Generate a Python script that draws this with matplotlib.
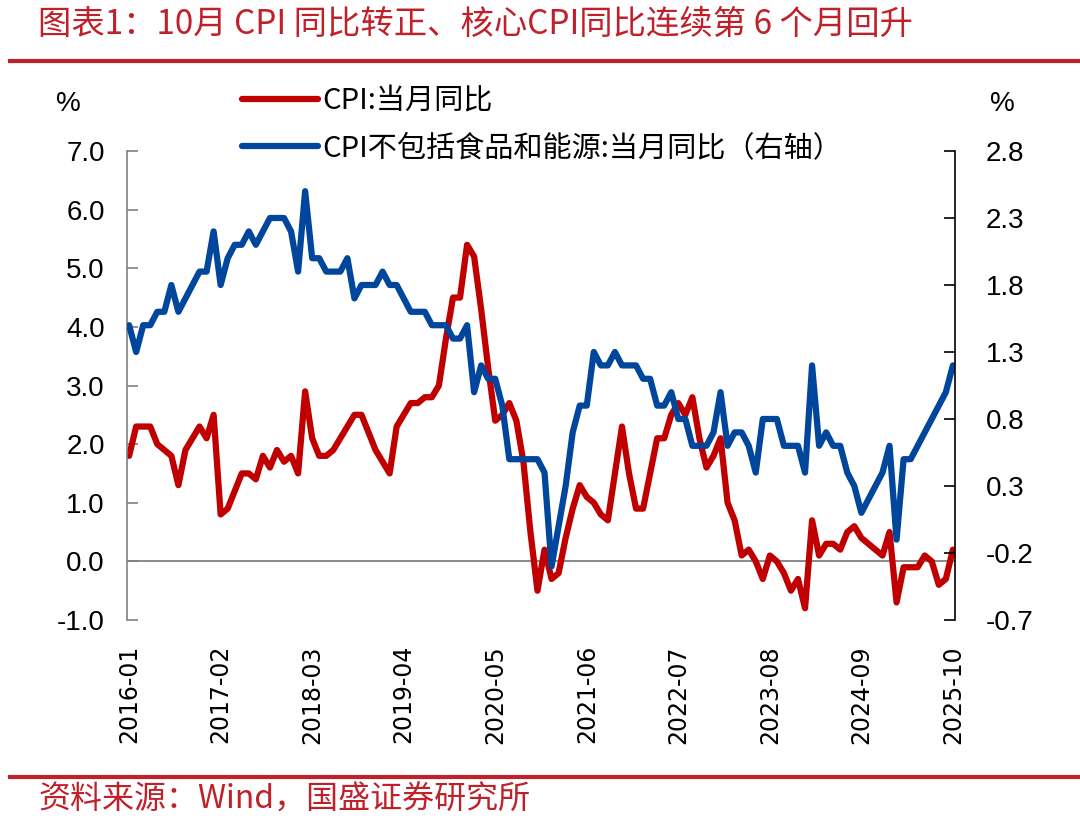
import numpy as np
import pandas as pd
import matplotlib
matplotlib.use('Agg')
import matplotlib.pyplot as plt
from matplotlib.lines import Line2D

plt.rcParams['font.family'] = ['DejaVu Sans', 'Noto Sans CJK SC']

# Monthly data, 2016-01 .. 2025-10
months = pd.period_range('2016-01', '2025-10', freq='M').strftime('%Y-%m').tolist()

cpi = [1.8, 2.3, 2.3, 2.3, 2.0, 1.9, 1.8, 1.3, 1.9, 2.1, 2.3, 2.1,
       2.5, 0.8, 0.9, 1.2, 1.5, 1.5, 1.4, 1.8, 1.6, 1.9, 1.7, 1.8,
       1.5, 2.9, 2.1, 1.8, 1.8, 1.9, 2.1, 2.3, 2.5, 2.5, 2.2, 1.9,
       1.7, 1.5, 2.3, 2.5, 2.7, 2.7, 2.8, 2.8, 3.0, 3.8, 4.5, 4.5,
       5.4, 5.2, 4.3, 3.3, 2.4, 2.5, 2.7, 2.4, 1.7, 0.5, -0.5, 0.2,
       -0.3, -0.2, 0.4, 0.9, 1.3, 1.1, 1.0, 0.8, 0.7, 1.5, 2.3, 1.5,
       0.9, 0.9, 1.5, 2.1, 2.1, 2.5, 2.7, 2.5, 2.8, 2.1, 1.6, 1.8,
       2.1, 1.0, 0.7, 0.1, 0.2, 0.0, -0.3, 0.1, 0.0, -0.2, -0.5, -0.3,
       -0.8, 0.7, 0.1, 0.3, 0.3, 0.2, 0.5, 0.6, 0.4, 0.3, 0.2, 0.1,
       0.5, -0.7, -0.1, -0.1, -0.1, 0.1, 0.0, -0.4, -0.3, 0.2]

core = [1.5, 1.3, 1.5, 1.5, 1.6, 1.6, 1.8, 1.6, 1.7, 1.8, 1.9, 1.9,
        2.2, 1.8, 2.0, 2.1, 2.1, 2.2, 2.1, 2.2, 2.3, 2.3, 2.3, 2.2,
        1.9, 2.5, 2.0, 2.0, 1.9, 1.9, 1.9, 2.0, 1.7, 1.8, 1.8, 1.8,
        1.9, 1.8, 1.8, 1.7, 1.6, 1.6, 1.6, 1.5, 1.5, 1.5, 1.4, 1.4,
        1.5, 1.0, 1.2, 1.1, 1.1, 0.9, 0.5, 0.5, 0.5, 0.5, 0.5, 0.4,
        -0.3, 0.0, 0.3, 0.7, 0.9, 0.9, 1.3, 1.2, 1.2, 1.3, 1.2, 1.2,
        1.2, 1.1, 1.1, 0.9, 0.9, 1.0, 0.8, 0.8, 0.6, 0.6, 0.6, 0.7,
        1.0, 0.6, 0.7, 0.7, 0.6, 0.4, 0.8, 0.8, 0.8, 0.6, 0.6, 0.6,
        0.4, 1.2, 0.6, 0.7, 0.6, 0.6, 0.4, 0.3, 0.1, 0.2, 0.3, 0.4,
        0.6, -0.1, 0.5, 0.5, 0.6, 0.7, 0.8, 0.9, 1.0, 1.2]

left_ticks = [-1.0, 0.0, 1.0, 2.0, 3.0, 4.0, 5.0, 6.0, 7.0]
right_ticks = [-0.7, -0.2, 0.3, 0.8, 1.3, 1.8, 2.3, 2.8]

title = '图表1：10月 CPI 同比转正、核心CPI同比连续第 6 个月回升'
source = '资料来源：Wind，国盛证券研究所'
label_cpi = 'CPI:当月同比'
label_core = 'CPI不包括食品和能源:当月同比（右轴）'

RED = '#C00000'
BLUE = '#00469C'
DECO = '#C0202A'

fig = plt.figure(figsize=(10.8, 8.23), dpi=100)
ax = fig.add_axes([127 / 1080, 1 - 620 / 823, (955 - 127) / 1080, (620 - 151) / 823])
ax2 = ax.twinx()

x = np.arange(len(months))
l1, = ax.plot(x, cpi, color=RED, lw=4.5, solid_joinstyle='round', solid_capstyle='round')
l2, = ax2.plot(x, core, color=BLUE, lw=4.5, solid_joinstyle='round', solid_capstyle='round')
ax.axhline(0, color='#808080', lw=1.3, zorder=0)

ax.set_xlim(-0.3, len(months) - 0.7)
ax.set_ylim(-1, 7)
ax2.set_ylim(-0.7, 2.8)

tick_idx = list(range(0, len(months), 13))
ax.set_xticks(tick_idx)
ax.set_xticklabels([months[i] for i in tick_idx], rotation=90, fontsize=17, family='DejaVu Sans')
ax.tick_params(axis='x', length=0, pad=18)

ax.set_yticks(left_ticks)
ax.set_yticklabels(['%.1f' % v for v in left_ticks], fontsize=20, family='Liberation Sans')
ax.tick_params(axis='y', direction='in', length=8, width=1.2, color='#808080', pad=16)

ax2.set_yticks(right_ticks)
ax2.set_yticklabels(['%.1f' % v for v in right_ticks], fontsize=20, family='Liberation Sans')
ax2.tick_params(axis='y', direction='in', length=8, width=1.2, color='black', pad=22)

for a in (ax, ax2):
    a.spines['top'].set_visible(False)
    a.spines['bottom'].set_visible(False)
ax.spines['left'].set_color('#808080')
ax.spines['left'].set_linewidth(1.2)
ax.spines['right'].set_visible(False)
ax2.spines['left'].set_visible(False)
ax2.spines['right'].set_color('black')
ax2.spines['right'].set_linewidth(1.2)

# unit labels
fig.text(68 / 1080, 1 - 104 / 823, '%', fontsize=20, family='Liberation Sans', ha='center', va='center')
fig.text(1002 / 1080, 1 - 104 / 823, '%', fontsize=20, family='Liberation Sans', ha='center', va='center')

fig.legend([l1, l2], [label_cpi, label_core], loc='upper left',
           bbox_to_anchor=(242 / 1080, 1 - 86 / 823), frameon=False,
           prop={'family': ['Noto Sans CJK SC', 'DejaVu Sans'], 'size': 21},
           handlelength=2.6, handletextpad=0.15, labelspacing=0.6,
           borderpad=0, borderaxespad=0)

# title, source and decorative rules
fig.text(38 / 1080, 1 - 24 / 823, title, color=DECO, fontsize=24, va='center',
         family=['Noto Sans CJK SC', 'DejaVu Sans'], style='italic')
fig.text(38 / 1080, 1 - 800 / 823, source, color=DECO, fontsize=23, va='center',
         family=['Noto Sans CJK SC', 'DejaVu Sans'], style='italic')
fig.add_artist(Line2D([10 / 1080, 1], [1 - 61 / 823] * 2, color=DECO, lw=3, transform=fig.transFigure))
fig.add_artist(Line2D([10 / 1080, 1], [1 - 777 / 823] * 2, color=DECO, lw=3, transform=fig.transFigure))

fig.savefig('out.png', dpi=100)
